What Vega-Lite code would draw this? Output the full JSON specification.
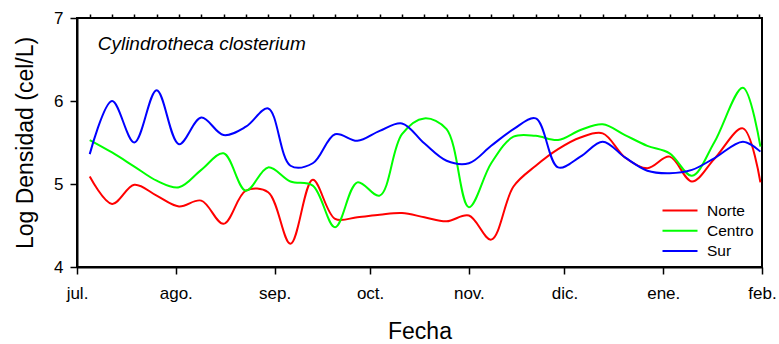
{
  "$schema": "https://vega.github.io/schema/vega-lite/v6.json",
  "width": 685,
  "height": 249,
  "autosize": {"type": "none"},
  "padding": {"left": 77, "top": 18, "right": 17, "bottom": 77},
  "background": "white",
  "config": {
    "font": "Liberation Sans",
    "view": {"stroke": "black", "strokeWidth": 2},
    "axis": {"grid": false, "domainColor": "black", "domainWidth": 2, "tickColor": "black", "tickWidth": 1.5, "labelColor": "black", "titleColor": "black", "labelFont": "Liberation Sans", "titleFont": "Liberation Sans", "titleFontWeight": "normal"}
  },
  "datasets": {
    "dens": [
      {"fecha": "2010-07-05", "zona": "Norte", "valor": 5.09},
      {"fecha": "2010-07-12", "zona": "Norte", "valor": 4.76},
      {"fecha": "2010-07-19", "zona": "Norte", "valor": 4.99},
      {"fecha": "2010-07-26", "zona": "Norte", "valor": 4.86},
      {"fecha": "2010-08-02", "zona": "Norte", "valor": 4.73},
      {"fecha": "2010-08-09", "zona": "Norte", "valor": 4.80},
      {"fecha": "2010-08-16", "zona": "Norte", "valor": 4.52},
      {"fecha": "2010-08-23", "zona": "Norte", "valor": 4.92},
      {"fecha": "2010-08-30", "zona": "Norte", "valor": 4.90},
      {"fecha": "2010-09-06", "zona": "Norte", "valor": 4.28},
      {"fecha": "2010-09-13", "zona": "Norte", "valor": 5.05},
      {"fecha": "2010-09-20", "zona": "Norte", "valor": 4.58},
      {"fecha": "2010-09-27", "zona": "Norte", "valor": 4.60},
      {"fecha": "2010-10-04", "zona": "Norte", "valor": 4.63},
      {"fecha": "2010-10-11", "zona": "Norte", "valor": 4.65},
      {"fecha": "2010-10-18", "zona": "Norte", "valor": 4.60},
      {"fecha": "2010-10-25", "zona": "Norte", "valor": 4.55},
      {"fecha": "2010-11-01", "zona": "Norte", "valor": 4.62},
      {"fecha": "2010-11-08", "zona": "Norte", "valor": 4.33},
      {"fecha": "2010-11-15", "zona": "Norte", "valor": 4.97},
      {"fecha": "2010-11-22", "zona": "Norte", "valor": 5.22},
      {"fecha": "2010-11-29", "zona": "Norte", "valor": 5.42},
      {"fecha": "2010-12-06", "zona": "Norte", "valor": 5.56},
      {"fecha": "2010-12-13", "zona": "Norte", "valor": 5.61},
      {"fecha": "2010-12-20", "zona": "Norte", "valor": 5.32},
      {"fecha": "2010-12-27", "zona": "Norte", "valor": 5.19},
      {"fecha": "2011-01-03", "zona": "Norte", "valor": 5.33},
      {"fecha": "2011-01-10", "zona": "Norte", "valor": 5.03},
      {"fecha": "2011-01-17", "zona": "Norte", "valor": 5.30},
      {"fecha": "2011-01-26", "zona": "Norte", "valor": 5.67},
      {"fecha": "2011-01-31T12:00:00Z", "zona": "Norte", "valor": 5.02},
      {"fecha": "2010-07-05", "zona": "Centro", "valor": 5.53},
      {"fecha": "2010-07-12", "zona": "Centro", "valor": 5.38},
      {"fecha": "2010-07-19", "zona": "Centro", "valor": 5.21},
      {"fecha": "2010-07-26", "zona": "Centro", "valor": 5.04},
      {"fecha": "2010-08-02", "zona": "Centro", "valor": 4.96},
      {"fecha": "2010-08-09", "zona": "Centro", "valor": 5.17},
      {"fecha": "2010-08-16", "zona": "Centro", "valor": 5.37},
      {"fecha": "2010-08-23", "zona": "Centro", "valor": 4.92},
      {"fecha": "2010-08-30", "zona": "Centro", "valor": 5.20},
      {"fecha": "2010-09-06", "zona": "Centro", "valor": 5.03},
      {"fecha": "2010-09-13", "zona": "Centro", "valor": 4.98},
      {"fecha": "2010-09-20", "zona": "Centro", "valor": 4.48},
      {"fecha": "2010-09-27", "zona": "Centro", "valor": 5.02},
      {"fecha": "2010-10-04", "zona": "Centro", "valor": 4.86},
      {"fecha": "2010-10-11", "zona": "Centro", "valor": 5.60},
      {"fecha": "2010-10-18", "zona": "Centro", "valor": 5.79},
      {"fecha": "2010-10-25", "zona": "Centro", "valor": 5.66},
      {"fecha": "2010-11-01", "zona": "Centro", "valor": 4.72},
      {"fecha": "2010-11-08", "zona": "Centro", "valor": 5.25},
      {"fecha": "2010-11-15", "zona": "Centro", "valor": 5.57},
      {"fecha": "2010-11-22", "zona": "Centro", "valor": 5.58},
      {"fecha": "2010-11-29", "zona": "Centro", "valor": 5.53},
      {"fecha": "2010-12-06", "zona": "Centro", "valor": 5.65},
      {"fecha": "2010-12-13", "zona": "Centro", "valor": 5.72},
      {"fecha": "2010-12-20", "zona": "Centro", "valor": 5.59},
      {"fecha": "2010-12-27", "zona": "Centro", "valor": 5.46},
      {"fecha": "2011-01-03", "zona": "Centro", "valor": 5.37},
      {"fecha": "2011-01-10", "zona": "Centro", "valor": 5.10},
      {"fecha": "2011-01-17", "zona": "Centro", "valor": 5.50},
      {"fecha": "2011-01-26", "zona": "Centro", "valor": 6.16},
      {"fecha": "2011-01-31T12:00:00Z", "zona": "Centro", "valor": 5.45},
      {"fecha": "2010-07-05", "zona": "Sur", "valor": 5.36},
      {"fecha": "2010-07-12", "zona": "Sur", "valor": 6.00},
      {"fecha": "2010-07-19", "zona": "Sur", "valor": 5.50},
      {"fecha": "2010-07-26", "zona": "Sur", "valor": 6.13},
      {"fecha": "2010-08-02", "zona": "Sur", "valor": 5.48},
      {"fecha": "2010-08-09", "zona": "Sur", "valor": 5.80},
      {"fecha": "2010-08-16", "zona": "Sur", "valor": 5.59},
      {"fecha": "2010-08-23", "zona": "Sur", "valor": 5.69},
      {"fecha": "2010-08-30", "zona": "Sur", "valor": 5.91},
      {"fecha": "2010-09-06", "zona": "Sur", "valor": 5.22},
      {"fecha": "2010-09-13", "zona": "Sur", "valor": 5.25},
      {"fecha": "2010-09-20", "zona": "Sur", "valor": 5.60},
      {"fecha": "2010-09-27", "zona": "Sur", "valor": 5.52},
      {"fecha": "2010-10-04", "zona": "Sur", "valor": 5.64},
      {"fecha": "2010-10-11", "zona": "Sur", "valor": 5.73},
      {"fecha": "2010-10-18", "zona": "Sur", "valor": 5.49},
      {"fecha": "2010-10-25", "zona": "Sur", "valor": 5.28},
      {"fecha": "2010-11-01", "zona": "Sur", "valor": 5.25},
      {"fecha": "2010-11-08", "zona": "Sur", "valor": 5.46},
      {"fecha": "2010-11-15", "zona": "Sur", "valor": 5.66},
      {"fecha": "2010-11-22", "zona": "Sur", "valor": 5.79},
      {"fecha": "2010-11-29", "zona": "Sur", "valor": 5.20},
      {"fecha": "2010-12-06", "zona": "Sur", "valor": 5.33},
      {"fecha": "2010-12-13", "zona": "Sur", "valor": 5.51},
      {"fecha": "2010-12-20", "zona": "Sur", "valor": 5.32},
      {"fecha": "2010-12-27", "zona": "Sur", "valor": 5.16},
      {"fecha": "2011-01-03", "zona": "Sur", "valor": 5.13},
      {"fecha": "2011-01-10", "zona": "Sur", "valor": 5.17},
      {"fecha": "2011-01-17", "zona": "Sur", "valor": 5.31},
      {"fecha": "2011-01-26", "zona": "Sur", "valor": 5.51},
      {"fecha": "2011-01-31T12:00:00Z", "zona": "Sur", "valor": 5.39}
    ]
  },
  "layer": [
    {
      "data": {"name": "dens"},
      "mark": {"type": "line", "interpolate": "catmull-rom", "strokeWidth": 2, "clip": true},
      "encoding": {
        "x": {
          "field": "fecha", "type": "temporal",
          "scale": {"type": "utc", "domain": [{"year": 2010, "month": "jul", "date": 1, "utc": true}, {"year": 2011, "month": "feb", "date": 1, "utc": true}], "nice": false},
          "axis": {
            "title": "Fecha", "titleFontSize": 23, "titlePadding": 19,
            "values": [
              {"year": 2010, "month": "jul", "date": 1, "utc": true},
              {"year": 2010, "month": "aug", "date": 1, "utc": true},
              {"year": 2010, "month": "sep", "date": 1, "utc": true},
              {"year": 2010, "month": "oct", "date": 1, "utc": true},
              {"year": 2010, "month": "nov", "date": 1, "utc": true},
              {"year": 2010, "month": "dec", "date": 1, "utc": true},
              {"year": 2011, "month": "jan", "date": 1, "utc": true},
              {"year": 2011, "month": "feb", "date": 1, "utc": true}
            ],
            "labelExpr": "['ene.','feb.','mar.','abr.','may.','jun.','jul.','ago.','sep.','oct.','nov.','dic.'][utcmonth(datum.value)]",
            "labelFontSize": 17, "labelPadding": 11, "labelDx": -4, "tickSize": 7, "labelFlush": false, "labelOverlap": false
          }
        },
        "y": {
          "field": "valor", "type": "quantitative",
          "scale": {"domain": [4, 7], "nice": false, "zero": false},
          "axis": {"title": "Log Densidad (cel/L)", "titleFontSize": 23, "titlePadding": 16, "values": [4, 5, 6, 7], "format": "d", "labelFontSize": 17, "labelPadding": 7, "tickSize": 7}
        },
        "color": {
          "field": "zona", "type": "nominal",
          "scale": {"domain": ["Norte", "Centro", "Sur"], "range": ["#ff0000", "#00ff00", "#0000ff"]},
          "legend": {"title": null, "orient": "none", "legendX": 592, "legendY": 181.5, "symbolType": "M-1.75,0H1.75", "symbolSize": 400, "symbolStrokeWidth": 2, "labelFontSize": 15.5, "labelFont": "Liberation Sans", "labelColor": "black", "labelOffset": 16, "rowPadding": 0.3, "padding": 0}
        }
      }
    },
    {
      "data": {"values": [{}]},
      "mark": {"type": "text", "text": "Cylindrotheca closterium", "align": "left", "baseline": "alphabetic", "fontStyle": "italic", "fontSize": 19, "font": "Liberation Sans", "color": "black"},
      "encoding": {
        "x": {
          "datum": {"year": 2010, "month": "jul", "date": 7, "hours": 12, "utc": true}, "type": "temporal",
          "axis": {
            "title": null, "labels": false, "domain": false, "tickSize": 4,
            "values": [
              {"year": 2010, "month": "jul", "date": 5, "utc": true},
              {"year": 2010, "month": "jul", "date": 12, "utc": true},
              {"year": 2010, "month": "jul", "date": 19, "utc": true},
              {"year": 2010, "month": "jul", "date": 26, "utc": true},
              {"year": 2010, "month": "aug", "date": 2, "utc": true},
              {"year": 2010, "month": "aug", "date": 9, "utc": true},
              {"year": 2010, "month": "aug", "date": 16, "utc": true},
              {"year": 2010, "month": "aug", "date": 23, "utc": true},
              {"year": 2010, "month": "aug", "date": 30, "utc": true},
              {"year": 2010, "month": "sep", "date": 6, "utc": true},
              {"year": 2010, "month": "sep", "date": 13, "utc": true},
              {"year": 2010, "month": "sep", "date": 20, "utc": true},
              {"year": 2010, "month": "sep", "date": 27, "utc": true},
              {"year": 2010, "month": "oct", "date": 4, "utc": true},
              {"year": 2010, "month": "oct", "date": 11, "utc": true},
              {"year": 2010, "month": "oct", "date": 18, "utc": true},
              {"year": 2010, "month": "oct", "date": 25, "utc": true},
              {"year": 2010, "month": "nov", "date": 1, "utc": true},
              {"year": 2010, "month": "nov", "date": 8, "utc": true},
              {"year": 2010, "month": "nov", "date": 15, "utc": true},
              {"year": 2010, "month": "nov", "date": 22, "utc": true},
              {"year": 2010, "month": "nov", "date": 29, "utc": true},
              {"year": 2010, "month": "dec", "date": 6, "utc": true},
              {"year": 2010, "month": "dec", "date": 13, "utc": true},
              {"year": 2010, "month": "dec", "date": 20, "utc": true},
              {"year": 2010, "month": "dec", "date": 27, "utc": true},
              {"year": 2011, "month": "jan", "date": 3, "utc": true},
              {"year": 2011, "month": "jan", "date": 10, "utc": true},
              {"year": 2011, "month": "jan", "date": 17, "utc": true},
              {"year": 2011, "month": "jan", "date": 24, "utc": true},
              {"year": 2011, "month": "jan", "date": 31, "utc": true}
            ]
          }
        },
        "y": {"datum": 6.62, "type": "quantitative"}
      }
    }
  ],
  "resolve": {"axis": {"x": "independent"}}
}
